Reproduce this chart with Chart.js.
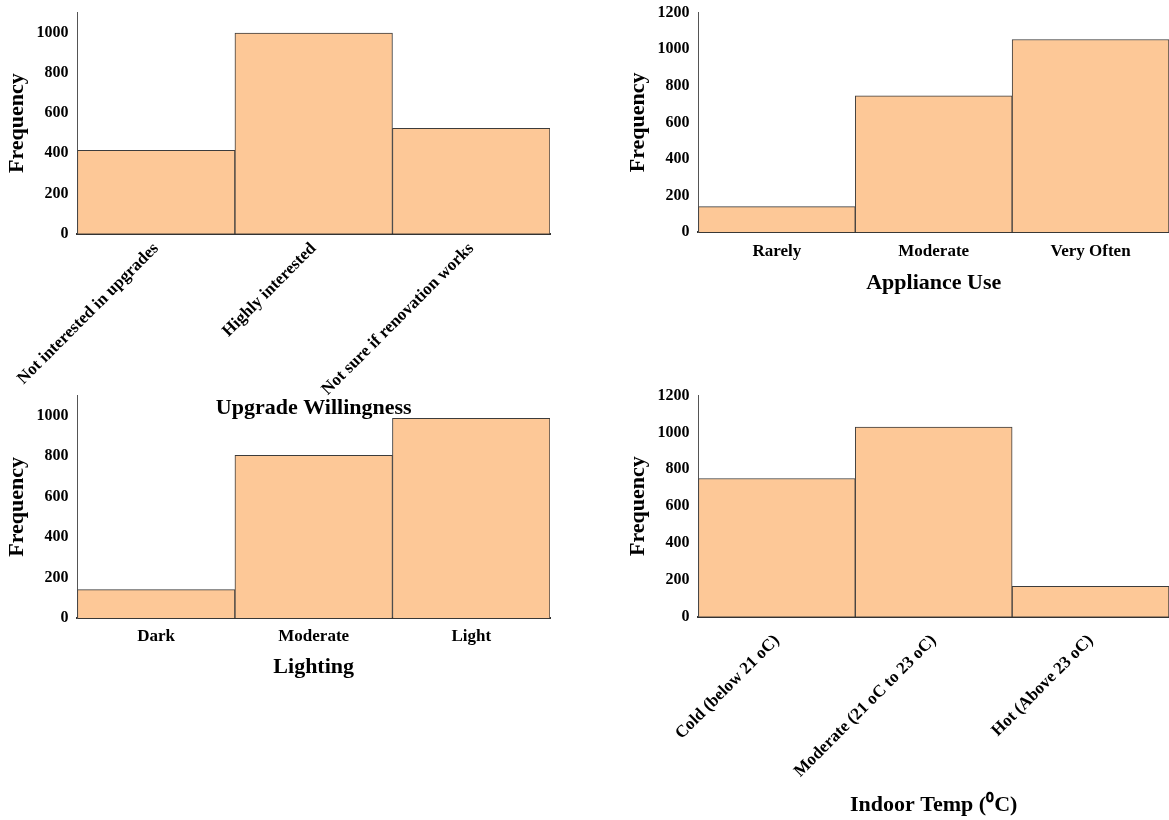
<!DOCTYPE html>
<html>
<head>
<meta charset="utf-8">
<script src="https://cdn.jsdelivr.net/npm/chart.js@4"></script>
<style>
  body { margin: 0; background: #fff; }
  #page { position: relative; width: 1169px; height: 820px; overflow: hidden; }
  .box { position: absolute; }
</style>
</head>
<body>
<div id="page">
  <div class="box" style="left:0;top:377px;width:565px;height:308px"><canvas id="lightingChart"></canvas></div>
  <div class="box" style="left:580px;top:377px;width:589px;height:446px"><canvas id="tempChart"></canvas></div>
  <div class="box" style="left:580px;top:-6px;width:589px;height:307px"><canvas id="applianceChart"></canvas></div>
  <div class="box" style="left:0;top:-6px;width:565px;height:432px"><canvas id="upgradeChart"></canvas></div>
</div>
<script>
const upgradeLabels = ['Not interested in upgrades', 'Highly interested', 'Not sure if renovation works'];
const upgradeFreq = [415, 998, 524];

const applianceLabels = ['Rarely', 'Moderate', 'Very Often'];
const applianceFreq = [140, 745, 1053];

const lightingLabels = ['Dark', 'Moderate', 'Light'];
const lightingFreq = [141, 805, 988];

const tempLabels = ['Cold (below 21 oC)', 'Moderate (21 oC to 23 oC)', 'Hot (Above 23 oC)'];
const tempFreq = [750, 1029, 165];

const yTicksShort = [0, 200, 400, 600, 800, 1000];
const yTicksTall = [0, 200, 400, 600, 800, 1000, 1200];

Chart.defaults.font.family = '"Liberation Serif", "Times New Roman", serif';
Chart.defaults.font.weight = 'bold';
Chart.defaults.color = '#000';

// one histogram-style panel; opts holds the small per-panel layout tweaks
function makeChart(id, labels, values, yMax, tickList, xTitle, opts) {
    const ctx = document.getElementById(id).getContext('2d');
    return new Chart(ctx, {
        type: 'bar',
        data: {
            labels: labels,
            datasets: [{
                label: 'Frequency',
                data: values,
                backgroundColor: '#fdc897',
                borderColor: '#3c3c3c',
                borderWidth: 1,
                borderSkipped: 'bottom',
                barPercentage: 1,
                categoryPercentage: 1
            }]
        },
        options: {
            responsive: true,
            maintainAspectRatio: false,
            animation: false,
            layout: { padding: opts.pad },
            plugins: {
                legend: { display: false },
                tooltip: { enabled: false }
            },
            scales: {
                x: {
                    grid: { display: false, drawTicks: false },
                    border: { color: '#333', width: 2 },
                    ticks: {
                        font: { size: 17, weight: 'bold' },
                        padding: opts.tickPad,
                        minRotation: opts.rotate,
                        maxRotation: opts.rotate,
                        autoSkip: false
                    },
                    title: {
                        display: true,
                        text: xTitle,
                        font: { size: 22, weight: 'bold' },
                        padding: { top: opts.titlePad, bottom: 0 }
                    }
                },
                y: {
                    min: 0,
                    max: yMax,
                    grid: { display: false, drawTicks: false },
                    border: { color: '#555', width: 1 },
                    afterBuildTicks: axis => {
                        axis.ticks = tickList.map(v => ({ value: v }));
                    },
                    ticks: {
                        font: { size: 16, weight: 'bold' },
                        padding: 9,
                        callback: v => String(v)
                    },
                    title: {
                        display: true,
                        text: 'Frequency',
                        font: { size: 22, weight: 'bold' },
                        padding: { top: 4, bottom: -3 }
                    }
                }
            }
        }
    });
}

document.addEventListener('DOMContentLoaded', () => {
    makeChart('upgradeChart', upgradeLabels, upgradeFreq, 1100, yTicksShort, 'Upgrade Willingness',
        { rotate: 45, tickPad: 5, titlePad: -9, pad: { left: 0, right: 15, top: 6, bottom: 4 } });
    makeChart('applianceChart', applianceLabels, applianceFreq, 1200, yTicksTall, 'Appliance Use',
        { rotate: 0, tickPad: 9, titlePad: 0, pad: { left: 41, right: 0, top: 6, bottom: 4 } });
    makeChart('lightingChart', lightingLabels, lightingFreq, 1100, yTicksShort, 'Lighting',
        { rotate: 0, tickPad: 8, titlePad: 0, pad: { left: 0, right: 15, top: 6, bottom: 4 } });
    makeChart('tempChart', tempLabels, tempFreq, 1200, yTicksTall, 'Indoor Temp (\u2070C)',
        { rotate: 45, tickPad: 14, titlePad: -3, pad: { left: 41, right: 0, top: 6, bottom: 4 } });
});
</script>
</body>
</html>
